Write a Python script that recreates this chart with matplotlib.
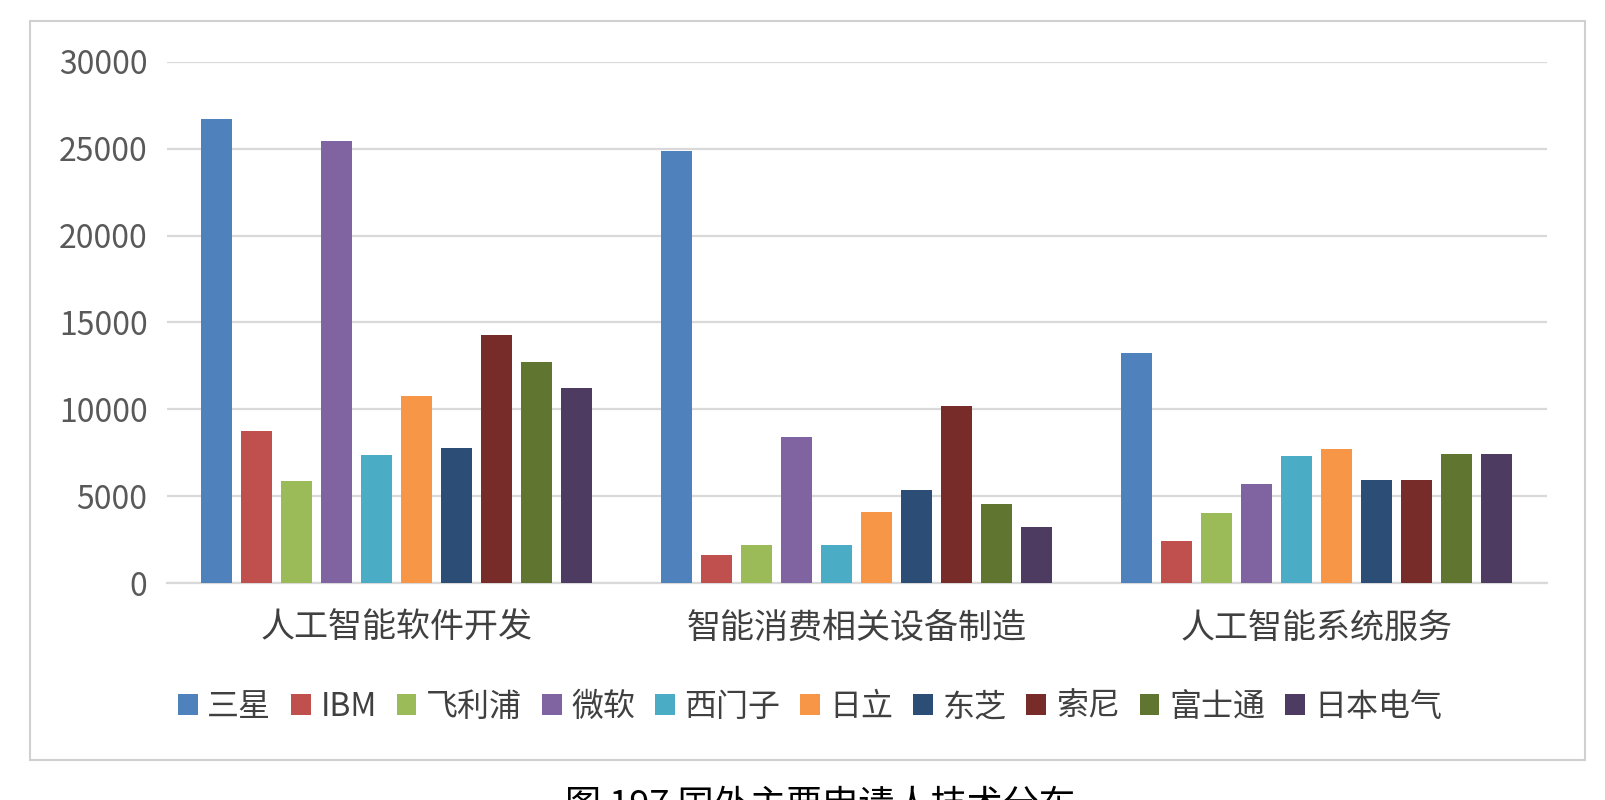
#--------------------- Importing the necessary libraries ---------------------------
import matplotlib
matplotlib.use("Agg")
import matplotlib.pyplot as plt
import numpy as np
from matplotlib.patches import Rectangle

plt.rcParams['font.family'] = ['Noto Sans CJK SC', 'DejaVu Sans']
plt.rcParams['font.weight'] = 'light'

#----------------------- Chart data ----------------------------
categories = ['人工智能软件开发', '智能消费相关设备制造', '人工智能系统服务']
applicants = ['三星', 'IBM', '飞利浦', '微软', '西门子', '日立', '东芝', '索尼', '富士通', '日本电气']
# one list per applicant, values for the three categories
values = {
    '三星':   [26700, 24900, 13250],
    'IBM':    [8750, 1600, 2400],
    '飞利浦': [5900, 2200, 4050],
    '微软':   [25450, 8400, 5700],
    '西门子': [7350, 2200, 7300],
    '日立':   [10750, 4100, 7700],
    '东芝':   [7800, 5350, 5950],
    '索尼':   [14300, 10200, 5950],
    '富士通': [12750, 4550, 7400],
    '日本电气': [11200, 3250, 7400],
}
colors = ['#4F81BD', '#C0504D', '#9BBB59', '#8064A2', '#4BACC6',
          '#F79646', '#2C4D75', '#772C2A', '#5F7530', '#4D3B62']
y_ticks = [0, 5000, 10000, 15000, 20000, 25000, 30000]
caption = '图 197 国外主要申请人技术分布'

#----------------------- Figure ----------------------------
W, H = 1606, 800
fig = plt.figure(figsize=(W / 100, H / 100), dpi=100)

# light grey chart frame
frame = Rectangle((30 / W, 1 - 760 / H), (1585 - 30) / W, (760 - 21) / H,
                  transform=fig.transFigure, fill=False, edgecolor='#d0d0d0', linewidth=1.5)
fig.patches.append(frame)

ax = fig.add_axes([167 / W, 1 - 583 / H, (1547 - 167) / W, (583 - 62) / H])

x = np.arange(len(categories))
step = 40 / 460
width = 31 / 460
n = len(applicants)
for i, name in enumerate(applicants):
    offset = (i - (n - 1) / 2) * step
    ax.bar(x + offset, values[name], width=width, color=colors[i], label=name, zorder=3)

ax.set_xlim(-0.5, len(categories) - 0.5)
ax.set_ylim(0, 30000)
ax.set_yticks(y_ticks)
ax.set_yticklabels([str(v) for v in y_ticks], fontsize=23, color='#595959')
ax.set_xticks(x)
ax.set_xticklabels(categories, fontsize=24.5, color='#404040')
ax.tick_params(axis='both', length=0)
ax.tick_params(axis='y', pad=14)
ax.tick_params(axis='x', pad=20)

ax.grid(axis='y', color='#d9d9d9', linewidth=1.6, zorder=0)
for side in ['top', 'right', 'left']:
    ax.spines[side].set_visible(False)
ax.spines['bottom'].set_color('#d9d9d9')
ax.spines['bottom'].set_linewidth(1.6)

ax.legend(loc='center', bbox_to_anchor=(810 / W, 1 - 707 / H), bbox_transform=fig.transFigure,
          ncol=n, frameon=False, fontsize=23, handlelength=0.62, handleheight=0.62,
          handletextpad=0.3, columnspacing=0.62, labelcolor='#404040')

fig.text(820 / W, 1 - 788 / H, caption, ha='center', va='top', fontsize=26, color='black')

plt.savefig('out.png', dpi=100)
